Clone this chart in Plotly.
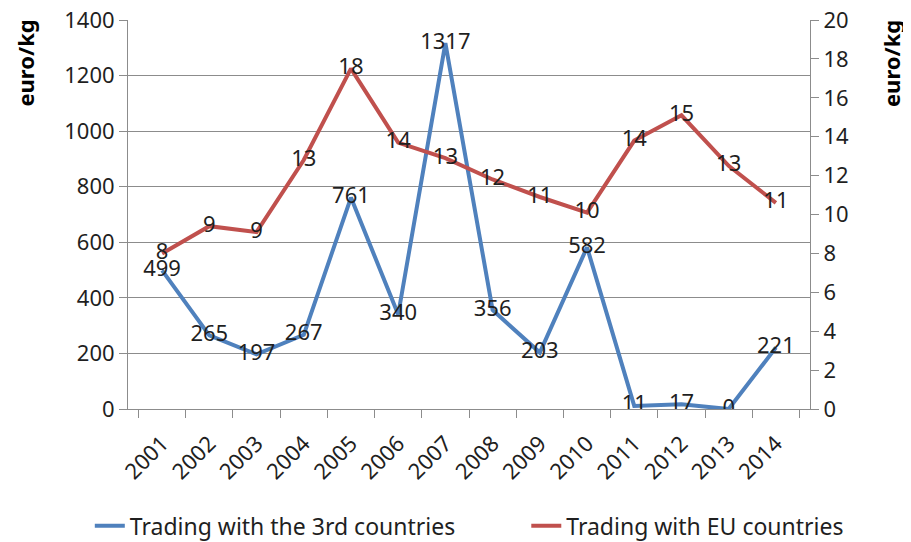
import plotly.graph_objects as go

years = ["2001", "2002", "2003", "2004", "2005", "2006", "2007",
         "2008", "2009", "2010", "2011", "2012", "2013", "2014"]
third_countries = [499, 265, 197, 267, 761, 340, 1317, 356, 203, 582, 11, 17, 0, 221]
eu_countries = [8.0, 9.4, 9.1, 12.8, 17.5, 13.7, 12.9, 11.8, 10.9, 10.1, 13.8, 15.1, 12.5, 10.6]
eu_labels = [8, 9, 9, 13, 18, 14, 13, 12, 11, 10, 14, 15, 13, 11]

FONT = "Noto Sans"
BLUE = "#4F81BD"
RED = "#C0504D"
GRID = "#8C8C8C"
TXT = "#1f1f1f"

fig = go.Figure()
fig.add_trace(go.Scatter(
    x=years, y=third_countries, name="Trading with the 3rd countries",
    mode="lines+text", line=dict(color=BLUE, width=4),
    text=[str(v) for v in third_countries], textposition="middle center",
    textfont=dict(family=FONT, size=22, color=TXT),
    yaxis="y", legend="legend",
))
fig.add_trace(go.Scatter(
    x=years, y=eu_countries, name="Trading with EU countries",
    mode="lines+text", line=dict(color=RED, width=4),
    text=[str(v) for v in eu_labels], textposition="middle center",
    textfont=dict(family=FONT, size=22, color=TXT),
    yaxis="y2", legend="legend2",
))

legend_font = dict(family=FONT, size=23, color=TXT)
fig.update_layout(
    width=903, height=534,
    margin=dict(l=120, r=101, t=12, b=133, autoexpand=False),
    paper_bgcolor="white", plot_bgcolor="white",
    font=dict(family=FONT, size=20, color=TXT),
    showlegend=True,
    legend=dict(orientation="h", x=-0.056, xanchor="left", y=-0.3, yanchor="middle",
                font=legend_font),
    legend2=dict(orientation="h", x=0.584, xanchor="left", y=-0.3, yanchor="middle",
                 font=legend_font),
    xaxis=dict(type="category", tickangle=-45, ticks="outside", ticklen=8,
               tickson="boundaries", tickcolor=GRID, showline=True, linecolor=GRID,
               showgrid=False, automargin=False, ticklabelstandoff=12,
               tickfont=dict(family=FONT, size=22, color=TXT)),
    yaxis=dict(range=[0, 1400], dtick=200, showgrid=True, gridcolor=GRID, gridwidth=1,
               ticks="outside", ticklen=8, tickcolor=GRID, showline=True, linecolor=GRID,
               zeroline=False, automargin=False, ticklabeloverflow="allow",
               tickfont=dict(family=FONT, size=22, color=TXT)),
    yaxis2=dict(range=[0, 20], dtick=2, overlaying="y", side="right", showgrid=False,
                ticks="outside", ticklen=8, tickcolor=GRID, showline=True, linecolor=GRID,
                zeroline=False, automargin=False, ticklabeloverflow="allow",
                tickfont=dict(family=FONT, size=22, color=TXT)),
    annotations=[
        dict(text="<b>euro/kg</b>", xref="paper", yref="paper", x=-0.151, y=1.005,
             xanchor="center", yanchor="top", textangle=-90, showarrow=False,
             font=dict(family=FONT, size=22, color="black")),
        dict(text="<b>euro/kg</b>", xref="paper", yref="paper", x=1.118, y=1.005,
             xanchor="center", yanchor="top", textangle=-90, showarrow=False,
             font=dict(family=FONT, size=22, color="black")),
    ],
)

fig.write_html("out.html")
